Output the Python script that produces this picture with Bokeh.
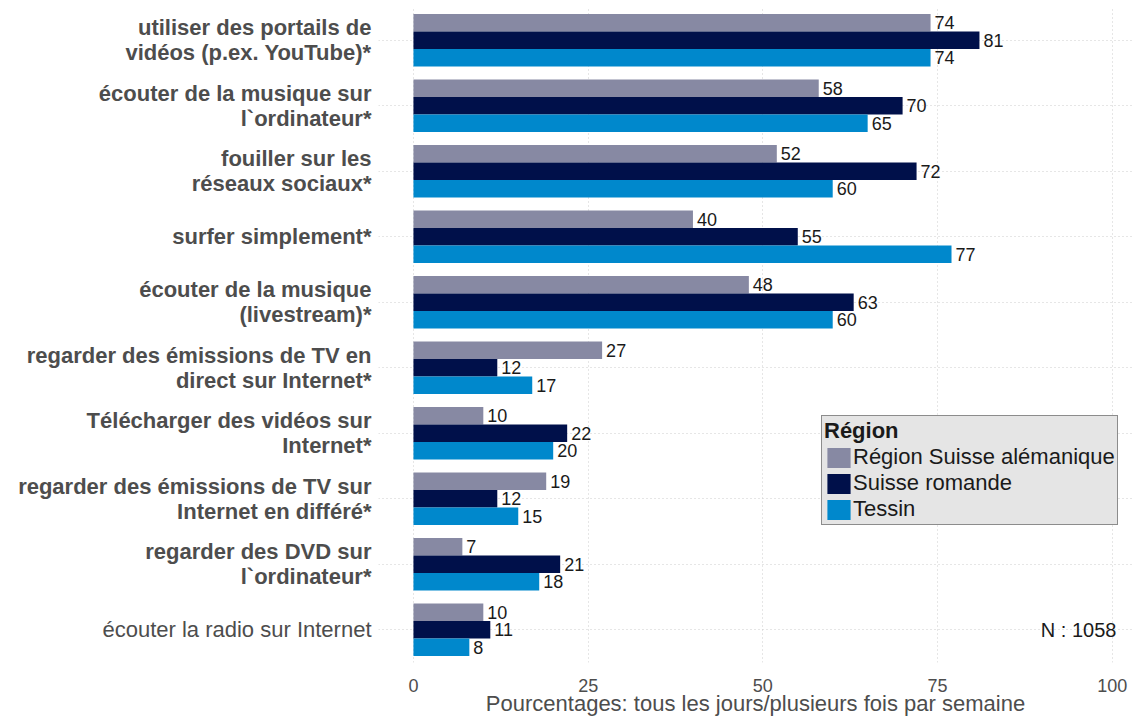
from bokeh.plotting import figure
from bokeh.layouts import row
from bokeh.models import ColumnDataSource, FixedTicker
from bokeh.transform import dodge
from bokeh.embed import file_html
from bokeh.resources import INLINE

categories = [
    "utiliser des portails de vidéos (p.ex. YouTube)*",
    "écouter de la musique sur l`ordinateur*",
    "fouiller sur les réseaux sociaux*",
    "surfer simplement*",
    "écouter de la musique (livestream)*",
    "regarder des émissions de TV en direct sur Internet*",
    "Télécharger des vidéos sur Internet*",
    "regarder des émissions de TV sur Internet en différé*",
    "regarder des DVD sur l`ordinateur*",
    "écouter la radio sur Internet",
]
tick_labels = [
    "utiliser des portails de\nvidéos (p.ex. YouTube)*",
    "écouter de la musique sur\nl`ordinateur*",
    "fouiller sur les\nréseaux sociaux*",
    "surfer simplement*",
    "écouter de la musique\n(livestream)*",
    "regarder des émissions de TV en\ndirect sur Internet*",
    "Télécharger des vidéos sur\nInternet*",
    "regarder des émissions de TV sur\nInternet en différé*",
    "regarder des DVD sur\nl`ordinateur*",
    "écouter la radio sur Internet",
]
series_names = ["Région Suisse alémanique", "Suisse romande", "Tessin"]
alemanique = [74, 58, 52, 40, 48, 27, 10, 19, 7, 10]
romande = [81, 70, 72, 55, 63, 12, 22, 12, 21, 11]
tessin = [74, 65, 60, 77, 60, 17, 20, 15, 18, 8]
colors = ["#8789a3", "#00104a", "#0088cc"]
x_ticks = [0, 25, 50, 75, 100]
n_text = "N : 1058"
x_title = "Pourcentages: tous les jours/plusieurs fois par semaine"

FONT = "Liberation Sans"
TXT = "#4d4d4d"
H = 718
TOP = 7
AXIS_H = 53

# ---------- main chart ----------
y_factors = list(reversed(categories))
p = figure(
    width=754, height=H,
    y_range=y_factors,
    x_range=(-5, 102.9),
    output_backend="svg", toolbar_location=None,
    min_border_left=0, min_border_top=TOP, min_border_right=0,
    min_border_bottom=AXIS_H,
)
p.y_range.range_padding = 0
p.outline_line_color = None
p.background_fill_color = "white"
p.border_fill_color = "white"

bar_h = 0.266
offsets = [bar_h, 0.0, -bar_h]
series = [alemanique, romande, tessin]
for name, vals, off, col in zip(series_names, series, offsets, colors):
    src = ColumnDataSource(dict(cat=categories, val=vals, lab=[str(v) for v in vals]))
    ydod = dodge("cat", off, range=p.y_range)
    p.hbar(y=ydod, right="val", left=0, height=bar_h, source=src,
           fill_color=col, line_color=None, legend_label=name)
    p.text(x="val", y=ydod, text="lab", source=src, x_offset=4,
           text_align="left", text_baseline="middle",
           text_font_size="18px", text_color="#1a1a1a",
           text_font={"value": FONT})

ax = p.xaxis[0]
ax.ticker = FixedTicker(ticks=x_ticks)
ax.axis_line_color = None
ax.major_tick_line_color = None
ax.minor_tick_line_color = None
ax.major_tick_out = 0
ax.major_tick_in = 0
ax.major_label_text_font = FONT
ax.major_label_text_font_size = "18px"
ax.major_label_text_color = TXT
ax.major_label_standoff = 16
ax.axis_label = x_title
ax.axis_label_text_font = FONT
ax.axis_label_text_font_size = "22px"
ax.axis_label_text_font_style = "normal"
ax.axis_label_text_color = TXT
ax.axis_label_standoff = -4
p.yaxis.visible = False

for g in (p.xgrid, p.ygrid):
    g.grid_line_color = "#cccccc"
    g.grid_line_dash = "1 3"
    g.grid_line_width = 1

nsrc = ColumnDataSource(dict(x=[100.6], y=[categories[-1]], t=[n_text]))
p.text(x="x", y="y", text="t", source=nsrc,
       text_align="right", text_baseline="middle",
       text_font={"value": FONT}, text_font_size="20px",
       text_color="#1a1a1a")

lg = p.legend[0]
lg.title = "Région"
lg.title_text_font = FONT
lg.title_text_font_size = "22px"
lg.title_text_font_style = "bold"
lg.title_text_color = "#1a1a1a"
lg.title_standoff = 0
lg.label_text_font = FONT
lg.label_text_font_size = "22px"
lg.label_text_color = "#1a1a1a"
lg.glyph_width = 29
lg.glyph_height = 25
lg.label_height = 23
lg.label_standoff = 0
lg.spacing = 0
lg.padding = 2
lg.margin = 0
lg.background_fill_color = "#e5e5e5"
lg.background_fill_alpha = 1
lg.border_line_color = "#333333"
lg.border_line_width = 1
lg.location = (443, 137)

# ---------- category labels panel (shares the y range) ----------
q = figure(
    width=378, height=H,
    y_range=p.y_range,
    x_range=(0, 1),
    output_backend="svg", toolbar_location=None,
    min_border_left=0, min_border_top=TOP, min_border_right=0,
    min_border_bottom=AXIS_H,
)
q.outline_line_color = None
q.grid.visible = False
q.xaxis.visible = False
q.yaxis.visible = False

is_bold = [c.endswith("*") for c in categories]
bold_src = ColumnDataSource(dict(
    cat=[c for c, b in zip(categories, is_bold) if b],
    lab=[t for t, b in zip(tick_labels, is_bold) if b],
    x=[1.0] * sum(is_bold),
))
plain_src = ColumnDataSource(dict(
    cat=[c for c, b in zip(categories, is_bold) if not b],
    lab=[t for t, b in zip(tick_labels, is_bold) if not b],
    x=[1.0] * (len(categories) - sum(is_bold)),
))
for src, style in ((bold_src, "bold"), (plain_src, "normal")):
    q.text(x="x", y="cat", text="lab", source=src, x_offset=-7,
           text_align="right", text_baseline="middle",
           text_font={"value": FONT}, text_font_size="22px",
           text_font_style=style, text_line_height=1.0,
           text_color=TXT)

layout = row(q, p)
open("out.html", "w").write(file_html(layout, INLINE))
